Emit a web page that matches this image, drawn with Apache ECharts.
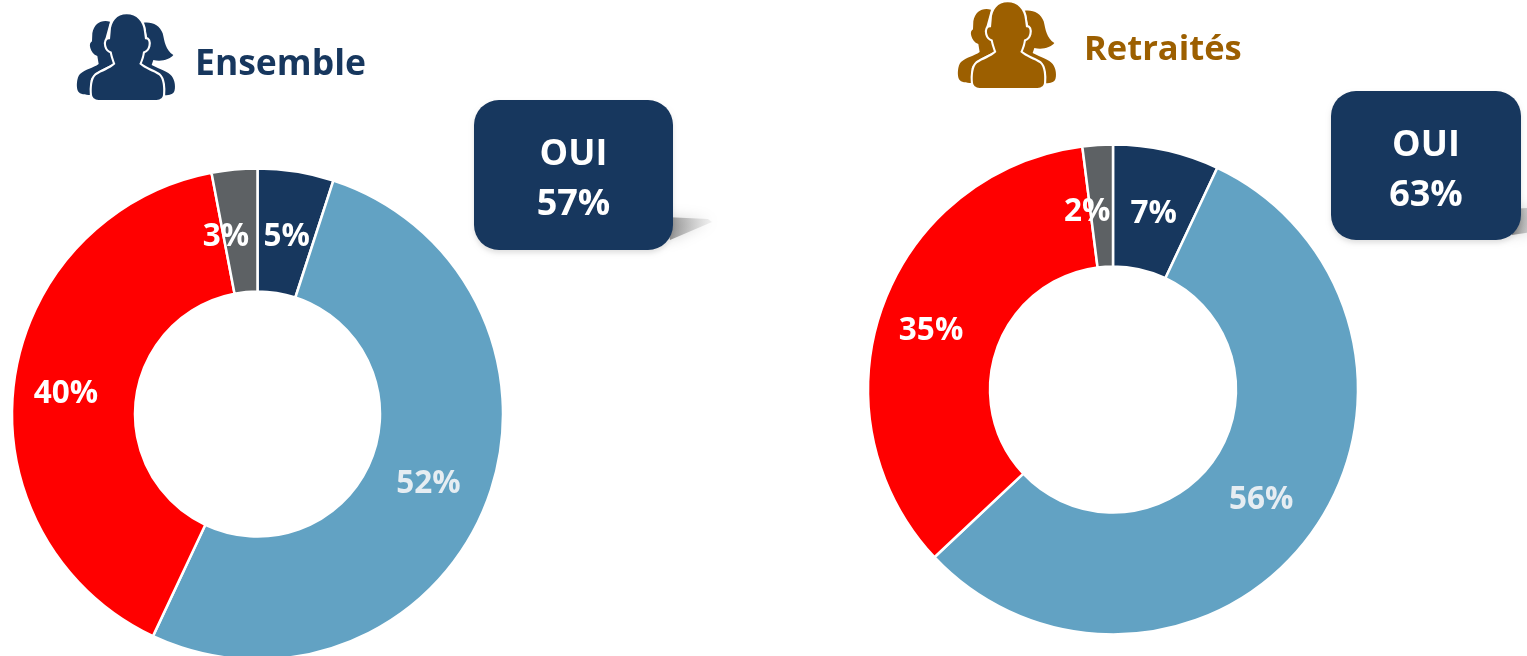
<!DOCTYPE html>
<html><head><meta charset="utf-8">
<style>html,body{margin:0;padding:0;background:#fff}#c{width:1527px;height:656px}</style>
<script src="https://cdn.jsdelivr.net/npm/echarts@6/dist/echarts.min.js"></script>
</head><body><div id="c"></div>
<script>
const categories = ['Tout à fait', 'Plutôt oui', 'Non', 'NSP'];
const ensembleValues = [5, 52, 40, 3];
const retraitesValues = [7, 56, 35, 2];
const panelTitles = ['Ensemble', 'Retraités'];
const ouiLabel = 'OUI';
const ouiValues = ['57%', '63%'];

const NAVY = '#17375E', BLUE = '#62A2C3', RED = '#FF0000', GREY = '#5D6164', BROWN = '#9C5F00';
const FONT = '"Open Sans", sans-serif';
const sliceColors = [NAVY, BLUE, RED, GREY];

// label nudges from the default ring-centre placement: [dx, dy] per slice
const ensembleNudge = [[0, 8], [-3, 1], [-6, 3], [-14, 9]];
const retraitesNudge = [[0, 7], [-3, 1], [-6, 5], [-14, 9]];

function pie(center, radius, values, nudge) {
  return {
    type: 'pie', center, radius, startAngle: 90, clockwise: true,
    avoidLabelOverlap: false, silent: true, animation: false,
    itemStyle: { borderColor: '#fff', borderWidth: 2.5 },
    label: { show: true, position: 'inside', formatter: '{c}%', color: '#fff',
      fontFamily: FONT, fontWeight: 700, fontSize: 31.5 },
    labelLine: { show: false },
    labelLayout: p => ({ dx: nudge[p.dataIndex][0], dy: nudge[p.dataIndex][1] }),
    data: values.map((v, i) => ({
      name: categories[i], value: v,
      itemStyle: { color: sliceColors[i] },
      label: i === 1 ? { color: '#E6EDF2' } : {}
    }))
  };
}

const backLeft = 'M150 65C125 58 102 70 97 100L96 124C90 128 88 134 91 144C94 154 100 164 112 168L116 192C100 204 75 208 60 222C50 232 48 262 54 274C60 284 75 285 92 285L92 240C100 220 130 205 165 190L135 120L150 65Z';
const backRight = 'M250 68C275 64 300 75 308 100C314 125 316 150 340 165C330 178 305 186 280 180L275 195C300 208 325 215 335 228C345 240 348 265 342 276C336 285 325 286 308 286L308 240L235 190L265 125L250 68Z';
const front = 'M200 43C170 43 153 65 152 95L150 118C140 115 136 125 139 138C142 150 148 152 155 155C158 170 162 180 166 192C150 208 125 214 108 226C96 236 94 265 96 285C98 296 108 300 120 300L285 300C298 300 308 296 309 285C311 265 309 236 297 226C280 214 255 208 238 192C243 180 247 170 249 155C256 152 262 150 265 138C268 125 264 115 255 118L252 95C250 65 230 43 200 43Z';

echarts.graphic.registerShape('peopleBackLeft', echarts.graphic.extendPath(backLeft, {}));
echarts.graphic.registerShape('peopleBackRight', echarts.graphic.extendPath(backRight, {}));
echarts.graphic.registerShape('peopleFront', echarts.graphic.extendPath(front, {}));

function icon(dx, dy, color) {
  const s = 1 / 3;
  const common = { x: dx, y: dy, scaleX: s, scaleY: s, silent: true };
  return [
    { type: 'peopleBackLeft', ...common, style: { fill: color }, z: 10 },
    { type: 'peopleBackRight', ...common, style: { fill: color }, z: 10 },
    { type: 'peopleFront', ...common, style: { fill: color, stroke: '#fff', lineWidth: 13, strokeFirst: true }, z: 11 }
  ];
}

function text(str, x, y, size, color, align) {
  return { type: 'text', x, y, z: 30, silent: true, style: {
    text: str, x: 0, y: 0, fill: color, fontFamily: FONT, fontWeight: 700, fontSize: size,
    textAlign: align || 'center', textVerticalAlign: 'middle' } };
}

function box(x, y, w, h, idx, cast, grad) {
  const cx = x + w / 2;
  return [
    { type: 'polygon', z: 20, silent: true,
      shape: { points: cast },
      style: {
        fill: new echarts.graphic.LinearGradient(grad[0], grad[1], grad[2], grad[3], [
          { offset: 0, color: 'rgba(110,110,110,0.8)' },
          { offset: 1, color: 'rgba(190,190,190,0.2)' }
        ]),
        shadowBlur: 14, shadowColor: 'rgba(140,140,140,0.55)' } },
    { type: 'rect', z: 21, silent: true,
      shape: { x, y, width: w, height: h, r: 25 },
      style: { fill: NAVY, shadowBlur: 5, shadowColor: 'rgba(0,0,0,0.12)', shadowOffsetY: 3 } },
    text(ouiLabel, cx, y + 55, 36, '#fff'),
    text(ouiValues[idx], cx, y + 105, 36, '#fff')
  ];
}

const graphicElements = [].concat(
  icon(60, 0, NAVY),
  icon(941, -12, BROWN),
  [text(panelTitles[0], 195, 65, 35.5, NAVY, 'left'),
   text(panelTitles[1], 1084, 50, 34.5, BROWN, 'left')],
  box(474, 100, 199, 150, 0, [[665, 217], [708, 219], [712, 222], [670, 240]], [0, 0, 1, 0]),
  box(1331, 91, 190, 149, 1, [[1512, 209], [1540, 207], [1540, 231], [1512, 235]], [0, 0, 1, 0])
);

const chart = echarts.init(document.getElementById('c'), null, { renderer: 'canvas' });
chart.setOption({
  animation: false,
  backgroundColor: '#fff',
  series: [
    pie([257.5, 414], [122.5, 245.5], ensembleValues, ensembleNudge),
    pie([1113, 389.5], [123, 245], retraitesValues, retraitesNudge)
  ],
  graphic: { elements: graphicElements }
});
</script></body></html>
